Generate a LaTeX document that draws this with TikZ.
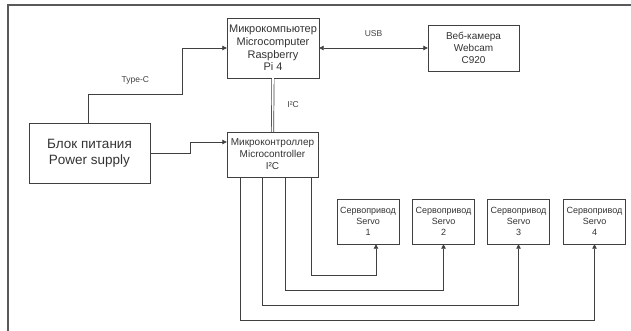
\documentclass[tikz,border=0pt]{standalone}
\usepackage{fontspec}
\setmainfont{Liberation Sans}
\usetikzlibrary{arrows.meta}

\begin{document}
\begin{tikzpicture}[x=1pt, y=-1pt,
		block/.style={draw=black!75, text=black!80, align=center, inner sep=0pt},
		link/.style={draw=black!75, line width=0.8pt, -{Triangle[length=4.5pt,width=4.5pt]}},
		lbl/.style={text=black!75, font=\fontsize{8.5}{10}\selectfont}]
		\useasboundingbox (0,0) rectangle (631,331);
		\draw[black!65, line width=1.2pt] (631,5) -- (8,5) -- (8,331);
		\node[block, minimum width=92pt, minimum height=60pt, font=\fontsize{11}{12.7}\selectfont] (rpi) at (273,48) {Микрокомпьютер\\Microcomputer\\Raspberry\\Pi 4};
		\node[block, minimum width=91pt, minimum height=46pt, font=\fontsize{10}{11.7}\selectfont] (cam) at (473.5,48) {Веб-камера\\Webcam\\C920};
		\node[block, minimum width=91pt, minimum height=45pt, font=\fontsize{10}{12}\selectfont] (mc) at (272.5,154.5) {Микроконтроллер\\Microcontroller\\I²C};
		\node[block, minimum width=121pt, minimum height=60pt, font=\fontsize{13.5}{16}\selectfont] (ps) at (89.5,153) {Блок питания\\Power supply};
		\foreach \i/\x in {1/368, 2/443.5, 3/518.5, 4/594.5}
			\node[block, minimum width=62pt, minimum height=45pt, font=\fontsize{9}{11}\selectfont] (s\i) at (\x,221.5) {Сервопривод\\Servo\\\i};
		\draw[link, {Triangle[length=4.5pt,width=4.5pt]}-{Triangle[length=4.5pt,width=4.5pt]}] (rpi.east) -- (cam.west) node[lbl, midway, above=8pt] {USB};
		\draw[link] ([xshift=60pt]ps.north west) |- (182,94) node[lbl, pos=0.75, above=6pt] {Type-C} |- (rpi.west);
		\draw[link] (ps.east) -- ++(40pt,0) |- ([yshift=12.5pt]mc.west);
		\draw[black!75, line width=0.7pt, double, double distance=1.6pt] (rpi.south) -- (mc.north) node[lbl, midway, right=11pt] {I²C};
		\foreach \i/\dx/\dy/\sx in {1/85/31/8, 2/59/46/0, 3/36/61/0, 4/14/76/0}
			\draw[link] ([xshift=\dx pt]mc.south west) |- ([xshift=\sx pt, yshift=-\dy pt]s\i.south) -- ([xshift=\sx pt]s\i.south);
	\end{tikzpicture}
\end{document}
